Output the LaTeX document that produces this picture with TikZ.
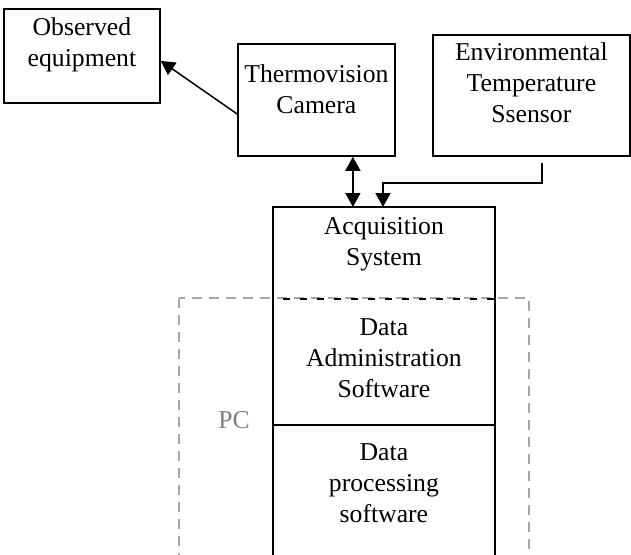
\documentclass[tikz,border=0pt]{standalone}
\usepackage{fontspec}
\setmainfont{Liberation Serif}
\usetikzlibrary{arrows.meta,positioning}
\definecolor{dashgray}{HTML}{A6A6A6}
\definecolor{labelgray}{HTML}{7F7F7F}
\newcommand{\diagfont}{\fontsize{25.7}{31}\selectfont}

\begin{document}
\begin{tikzpicture}[x=1pt,y=-1pt,
  box/.style={draw,line width=1.8pt,inner sep=0pt,align=center,font=\diagfont,anchor=north west},
  layer/.style={box,draw=none},
  arr/.style={-{Triangle[length=14pt,width=15pt]},line width=1.5pt},
  darr/.style={arr,{Triangle[length=14pt,width=15pt]}-{Triangle[length=14pt,width=15pt]}},
  pcline/.style={dashgray,line width=1.5pt,dash pattern=on 10pt off 7pt}
]
\useasboundingbox (0,0) rectangle (631,554);
\clip (0,0) rectangle (631,554);
% devices
\node[box,text width=156pt,text height=27pt,text depth=67pt] (obs) at (3,8) {Observed\\equipment};
\node[box,text width=157pt,text height=39pt,text depth=73pt] (cam) at (237,43) {Thermovision\\Camera};
\node[box,text width=197pt,text height=26pt,text depth=95pt] (env) at (432,34) {Environmental\\Temperature\\Ssensor};
% software stack
\node[layer,text width=220pt,text height=27pt,text depth=63pt] (acq) at (273,207) {Acquisition\\System};
\node[layer,text width=220pt,text height=36pt,text depth=88pt,below=0pt of acq] (adm) {Data\\Administration\\Software};
\node[layer,text width=220pt,text height=35pt,text depth=110pt,below=0pt of adm] (proc) {Data\\processing\\software};
% PC frame
\draw[pcline] (179,298) rectangle (529,580);
\node[font=\diagfont,text=labelgray] (pc) at (234,420) {PC};
\draw[line width=1.8pt] (proc.south west) -- (acq.north west) -- (acq.north east) -- (proc.south east);
\draw[line width=1.8pt] (adm.south west) -- (adm.south east);
\draw[line width=1.8pt,dash pattern=on 7pt off 10pt,dash phase=-10pt] (acq.south west) -- (acq.south east);
% links
\coordinate (bend) at (383,183);
\draw[arr] ([yshift=-14pt]cam.west) -- ([yshift=-5pt]obs.east);
\draw[darr] ([xshift=36.5pt]cam.south) -- ([xshift=36.5pt]cam.south |- acq.north);
\draw[arr] ([xshift=10.5pt,yshift=-6pt]env.south) |- (bend) -- (bend |- acq.north);
\end{tikzpicture}
\end{document}
